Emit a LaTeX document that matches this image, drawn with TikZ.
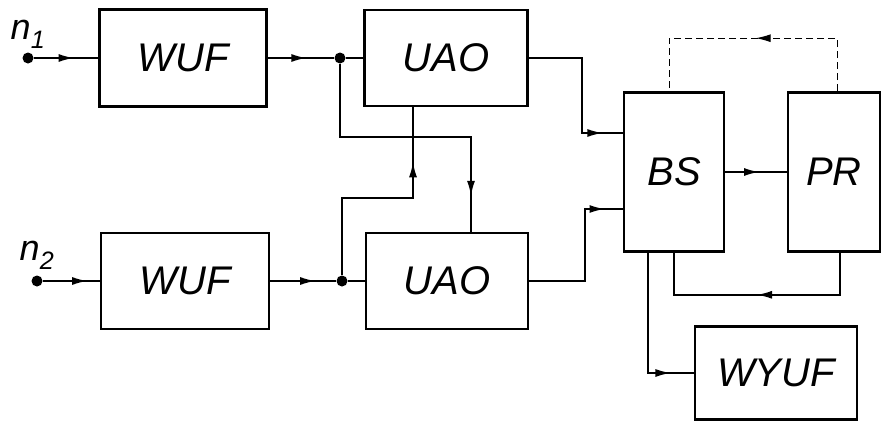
\documentclass[tikz,border=0pt]{standalone}
\usepackage{fontspec}
\setmainfont{Liberation Sans}
\usetikzlibrary{arrows.meta, positioning, decorations.markings}

\begin{document}
\begin{tikzpicture}[
    x=1pt, y=-1pt,
    blk/.style={draw, rectangle, line width=2.6pt, inner sep=0pt, align=center, font=\fontsize{40}{44}\selectfont\itshape},
    wire/.style={line width=1.6pt},
    fback/.style={line width=1pt, dash pattern=on 7pt off 4pt},
    dot/.style={circle, fill, inner sep=0pt, minimum size=11pt},
    lbl/.style={inner sep=0pt, font=\fontsize{36}{38}\selectfont\itshape},
    marr/.style={postaction={decorate}, decoration={markings, mark=at position #1 with {\arrow{Latex[length=15pt,width=8pt]}}}}
]
\useasboundingbox (0,0) rectangle (884,423);

% blocks
\node[blk, minimum width=167pt, minimum height=97pt] (wuf1) at (183,58) {WUF};
\node[blk, minimum width=163pt, minimum height=96pt] (uao1) at (446,58) {UAO};
\node[blk, minimum width=168pt, minimum height=96pt] (wuf2) at (185,281) {WUF};
\node[blk, minimum width=162pt, minimum height=96pt] (uao2) at (447,281) {UAO};
\node[blk, minimum width=100pt, minimum height=159pt] (bs) at (674,172) {BS};
\node[blk, minimum width=92pt, minimum height=159pt] (pr) at (834,172) {PR};
\node[blk, minimum width=162pt, minimum height=93pt] (wyuf) at (776,373) {WYUF};

% inputs and branch points
\node[dot] (in1) at (28,58) {};
\node[dot] (in2) at (37,281) {};
\node[dot] (j1) at (340,58) {};
\node[dot] (j2) at (342,281) {};
\node[lbl, above=4pt of in1] (n1) {n\textsubscript{1}};
\node[lbl, above=6pt of in2] (n2) {n\textsubscript{2}};

% signal paths
\draw[wire, marr=0.62] (in1) -- (wuf1);
\draw[wire, marr=0.78] (in2) -- (wuf2);
\draw[wire, marr=0.58] (wuf1) -- (j1);
\draw[wire, marr=0.68] (wuf2) -- (j2);
\draw[wire] (j1) -- (uao1);
\draw[wire] (j2) -- (uao2);
\draw[wire, marr=0.88] (j1) |- (471,137) -- (471,137 |- uao2.north);
\draw[wire, marr=0.77] (j2) |- (413,198) -- (413,198 |- uao1.south);
\draw[wire, marr=0.88] (uao1.east) -| (582,133) -- (582,133 -| bs.west);
\draw[wire, marr=0.89] (uao2.east) -| (585,209) -- (585,209 -| bs.west);
\draw[wire, marr=0.55] (bs.east) -- (pr.west);
\draw[wire, marr=0.5] ([xshift=6pt]pr.south) -- ++(0,42) -| (bs.south);
\draw[fback, marr=0.49] ([xshift=3pt]pr.north) -- ++(0,-53) -| ([xshift=-5pt]bs.north);
\draw[wire, marr=0.86] ([xshift=-26pt]bs.south) |- (wyuf.west);
\end{tikzpicture}
\end{document}
